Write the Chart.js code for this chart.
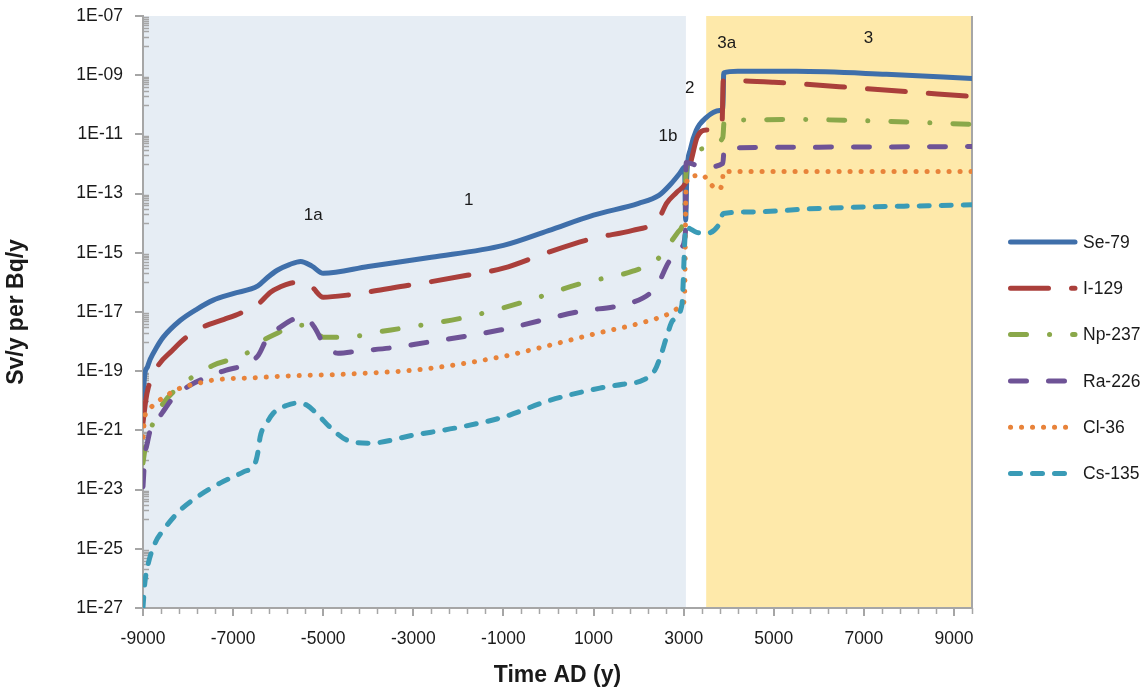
<!DOCTYPE html>
<html>
<head>
<meta charset="utf-8">
<title>Sv/y per Bq/y</title>
<script src="https://cdn.jsdelivr.net/npm/chart.js@4.4.1/dist/chart.umd.min.js"></script>
<style>
	html, body { margin: 0; padding: 0; background: #fff; }
	#wrap { position: relative; width: 1144px; height: 691px; }
</style>
</head>
<body>
<div id="wrap"><canvas id="chart"></canvas></div>
<script>
// years AD and log10(Sv/y per Bq/y), one pair per nuclide
const se79Years = [-9000, -8960, -8900, -8840, -8700, -8550, -8170, -7800, -7440, -7000, -6450, -6250, -6020, -5750, -5500, -5250, -5000, -4000, -2600, -1000, 0, 1000, 2000, 2450, 2700, 2920, 3020, 3045, 3070, 3150, 3280, 3500, 3800, 3870, 3890, 4200, 5500, 7500, 9400]
const se79Log = [-19.9, -19.1, -18.85, -18.6, -18.2, -17.85, -17.28, -16.9, -16.6, -16.38, -16.12, -15.85, -15.59, -15.4, -15.29, -15.45, -15.69, -15.46, -15.15, -14.75, -14.25, -13.73, -13.33, -13.06, -12.7, -12.3, -12.1, -13.9, -12.4, -11.5, -10.86, -10.43, -10.19, -10.15, -8.92, -8.87, -8.87, -8.97, -9.11]

const i129Years = [-9000, -8940, -8880, -8660, -8350, -8060, -7660, -7200, -6840, -6450, -6170, -5950, -5730, -5500, -5250, -5000, -4470, -3200, -2700, -1810, -1000, 0, 1000, 1870, 2370, 2500, 2620, 2850, 3050, 3180, 3300, 3500, 3850, 3880, 5000, 7000, 9400]
const i129Log = [-20.75, -20.0, -19.54, -18.8, -18.3, -17.88, -17.5, -17.25, -17.04, -16.74, -16.33, -16.15, -16.03, -16.0, -16.16, -16.5, -16.43, -16.12, -16.0, -15.76, -15.52, -14.98, -14.51, -14.24, -13.97, -13.7, -13.33, -12.95, -12.6, -11.8, -11.1, -10.85, -10.73, -9.18, -9.24, -9.45, -9.72]

const np237Years = [-9000, -8960, -8900, -8840, -8700, -8550, -8060, -7440, -6840, -6550, -6330, -6000, -5690, -5450, -5220, -5000, -4470, -3800, -3130, -1810, -570, 740, 1870, 2400, 2580, 2870, 3020, 3050, 3120, 3200, 3500, 3870, 3900, 5600, 7500, 9400]
const np237Log = [-22.1, -21.67, -21.3, -21.0, -20.5, -20.08, -19.37, -18.8, -18.5, -18.25, -17.96, -17.7, -17.49, -17.45, -17.55, -17.85, -17.85, -17.68, -17.52, -17.17, -16.67, -16.03, -15.62, -15.25, -14.91, -14.31, -13.6, -12.4, -11.9, -11.65, -11.47, -11.1, -10.53, -10.5, -10.56, -10.66]

const ra226Years = [-9000, -8960, -8900, -8840, -8700, -8570, -8330, -7950, -7570, -7170, -6770, -6440, -6250, -5950, -5550, -5350, -5180, -5000, -4670, -4230, -3370, -2960, -1080, 630, 1870, 2250, 2470, 2650, 2950, 3040, 3055, 3300, 3500, 3870, 3900, 6000, 9400]
const ra226Log = [-22.9, -21.9, -21.4, -21.0, -20.7, -20.4, -19.9, -19.47, -19.2, -18.97, -18.8, -18.46, -17.9, -17.51, -17.21, -17.25, -17.55, -18.05, -18.39, -18.32, -18.19, -18.09, -17.61, -17.0, -16.67, -16.37, -15.93, -15.36, -14.8, -14.3, -11.95, -12.05, -12.1, -11.98, -11.47, -11.43, -11.41]

const cl36Years = [-9000, -8960, -8900, -8770, -8570, -8170, -7800, -7440, -6500, -5950, -4500, -2780, -1000, -410, 1080, 2030, 2700, 2950, 3020, 3055, 3150, 3420, 3580, 3760, 3860, 3880, 6000, 9400]
const cl36Log = [-21.22, -20.55, -20.35, -20.15, -19.91, -19.57, -19.42, -19.3, -19.22, -19.17, -19.1, -18.93, -18.5, -18.29, -17.72, -17.38, -17.04, -16.8, -16.5, -12.72, -12.42, -12.38, -12.65, -12.86, -12.65, -12.25, -12.25, -12.25]

const cs135Years = [-9000, -8960, -8880, -8730, -8550, -8170, -7800, -7290, -6770, -6510, -6440, -6400, -6250, -6110, -5800, -5580, -5360, -5100, -4850, -4470, -3960, -3000, -2000, -1000, 0, 1140, 1650, 2100, 2360, 2510, 2620, 2760, 2960, 3050, 3290, 3510, 3800, 3880, 4500, 6000, 9400]
const cs135Log = [-26.97, -26.16, -25.48, -24.8, -24.37, -23.69, -23.25, -22.78, -22.4, -22.1, -21.66, -21.22, -20.75, -20.42, -20.15, -20.08, -20.15, -20.5, -20.89, -21.33, -21.43, -21.16, -20.9, -20.55, -20.0, -19.57, -19.44, -19.3, -18.97, -18.39, -17.85, -17.28, -16.77, -14.14, -14.31, -14.34, -14.0, -13.67, -13.62, -13.5, -13.38]

const seriesNames = ['Se-79', 'I-129', 'Np-237', 'Ra-226', 'Cl-36', 'Cs-135']
const seriesYears = [se79Years, i129Years, np237Years, ra226Years, cl36Years, cs135Years]
const seriesLogs = [se79Log, i129Log, np237Log, ra226Log, cl36Log, cs135Log]

const yTickExponents = [-27, -25, -23, -21, -19, -17, -15, -13, -11, -9, -7]
const xTickYears = [-9000, -7000, -5000, -3000, -1000, 1000, 3000, 5000, 7000, 9000]

// shaded periods (years AD)
const zoneStarts = [-9000, 3500]
const zoneEnds = [3050, 9400]

const phaseLabels = ['1a', '1', '1b', '2', '3a', '3']
const phaseYears = [-5220, -1770, 2650, 3135, 3955, 7100]
const phaseLevels = [-13.73, -13.23, -11.07, -9.45, -7.93, -7.76]

const FONT = "'Liberation Sans', Arial, sans-serif"
const AXIS_GRAY = '#a6a6a6'
const TEXT = '#1a1a1a'

const lineStyles = [
	{ color: '#3f6faa', dash: [], width: 5 },
	{ color: '#aa3f3b', dash: [38, 23], width: 5 },
	{ color: '#8aa84a', dash: [16, 23, 0.1, 23], width: 5 },
	{ color: '#6e5396', dash: [16, 22], width: 5 },
	{ color: '#e8833a', dash: [0.1, 10.9], width: 5 },
	{ color: '#3a9bb6', dash: [10, 12], width: 5 },
]
const zoneColors = ['#e6edf4', '#fee9aa']

const toPoints = (years, logs) => years.map((x, i) => ({ x: x, y: Math.pow(10, logs[i]) }))

const datasets = seriesNames.map((name, i) => ({
	label: name,
	data: toPoints(seriesYears[i], seriesLogs[i]),
	borderColor: lineStyles[i].color,
	backgroundColor: lineStyles[i].color,
	borderWidth: lineStyles[i].width,
	borderDash: lineStyles[i].dash,
	borderCapStyle: 'round',
	borderJoinStyle: 'round',
	cubicInterpolationMode: 'monotone',
	pointRadius: 0,
	fill: false,
	order: seriesNames.length - i,
}))

const decor = {
	id: 'decor',
	beforeDraw(chart) {
		const { ctx, chartArea: a, scales: { x } } = chart
		ctx.save()
		zoneStarts.forEach((s, i) => {
			const l = x.getPixelForValue(s)
			const r = x.getPixelForValue(zoneEnds[i])
			ctx.fillStyle = zoneColors[i]
			ctx.fillRect(l, a.top, r - l, a.bottom - a.top)
		})
		ctx.restore()
	},
	beforeDatasetsDraw(chart) {
		const { ctx, chartArea: a, scales: { x, y } } = chart
		ctx.save()
		ctx.strokeStyle = AXIS_GRAY
		ctx.lineWidth = 1.5
		ctx.beginPath()
		// minor ticks on the log axis, one decade under each labelled tick
		yTickExponents.forEach(e => {
			if (e === yTickExponents[0]) return
			for (let k = 1; k <= 9; k++) {
				const py = Math.round(y.getPixelForValue(k * Math.pow(10, e - 1))) + 0.5
				ctx.moveTo(a.left, py)
				ctx.lineTo(a.left + 6, py)
			}
		})
		// minor ticks on the time axis
		for (let v = -9000; v <= 9400; v += 400) {
			if (xTickYears.includes(v)) continue
			const px = Math.round(x.getPixelForValue(v)) + 0.5
			ctx.moveTo(px, a.bottom)
			ctx.lineTo(px, a.bottom + 6)
		}
		ctx.stroke()
		// right frame line
		ctx.lineWidth = 2
		ctx.beginPath()
		ctx.moveTo(a.right, a.top)
		ctx.lineTo(a.right, a.bottom)
		ctx.stroke()

		ctx.fillStyle = TEXT
		ctx.font = '17px ' + FONT
		ctx.textAlign = 'center'
		ctx.textBaseline = 'middle'
		phaseLabels.forEach((t, i) => {
			ctx.fillText(t, x.getPixelForValue(phaseYears[i]), y.getPixelForValue(Math.pow(10, phaseLevels[i])))
		})
		ctx.restore()
	},
	afterDraw(chart) {
		const { ctx, chartArea: a } = chart
		ctx.save()
		chart.data.datasets.forEach((ds, i) => {
			const ly = 242 + i * 46.3
			const x0 = a.right + 36
			ctx.strokeStyle = ds.borderColor
			ctx.lineWidth = ds.borderWidth
			ctx.lineCap = 'round'
			ctx.setLineDash(ds.borderDash)
			ctx.beginPath()
			ctx.moveTo(x0 + 2.5, ly)
			ctx.lineTo(x0 + 67, ly)
			ctx.stroke()
			ctx.setLineDash([])
			ctx.fillStyle = TEXT
			ctx.font = '17.5px ' + FONT
			ctx.textAlign = 'left'
			ctx.textBaseline = 'middle'
			ctx.fillText(ds.label, x0 + 75, ly + 1)
		})
		ctx.restore()
	},
}

const tickFont = { size: 17.5, family: FONT }
const titleFont = { size: 23, weight: 'bold', family: FONT }

new Chart(document.getElementById('chart'), {
	type: 'line',
	data: { datasets: datasets },
	options: {
		responsive: true,
		maintainAspectRatio: false,
		animation: false,
		layout: { padding: { top: 16, right: 172, left: 0, bottom: 0 } },
		plugins: {
			legend: { display: false },
			tooltip: { enabled: false },
		},
		scales: {
			x: {
				type: 'linear',
				min: -9000,
				max: 9400,
				afterBuildTicks: s => { s.ticks = xTickYears.map(v => ({ value: v })) },
				afterFit: s => { s.height = 83; s.paddingLeft = 0; s.paddingRight = 0 },
				ticks: { autoSkip: false, maxRotation: 0, padding: 13, color: TEXT, font: tickFont, callback: v => String(v) },
				grid: { drawOnChartArea: false, tickLength: 8, color: AXIS_GRAY, lineWidth: 2 },
				border: { color: AXIS_GRAY, width: 2 },
				title: { display: true, text: 'Time AD (y)', color: TEXT, font: titleFont, padding: { top: 0, bottom: 2 } },
			},
			y: {
				type: 'logarithmic',
				min: 1e-27,
				max: 1e-7,
				afterBuildTicks: s => { s.ticks = yTickExponents.map(e => ({ value: Math.pow(10, e) })) },
				afterFit: s => { s.width = 143; s.paddingTop = 0; s.paddingBottom = 0 },
				ticks: {
					autoSkip: false,
					padding: 12,
					color: TEXT,
					font: tickFont,
					callback: v => '1E-' + String(-Math.round(Math.log10(v))).padStart(2, '0'),
				},
				grid: { drawOnChartArea: false, tickLength: 8, color: AXIS_GRAY, lineWidth: 2 },
				border: { color: AXIS_GRAY, width: 2 },
				title: { display: true, text: 'Sv/y per Bq/y', color: TEXT, font: titleFont, padding: { top: 3, bottom: 0 } },
			},
		},
	},
	plugins: [decor],
})
</script>
</body>
</html>
